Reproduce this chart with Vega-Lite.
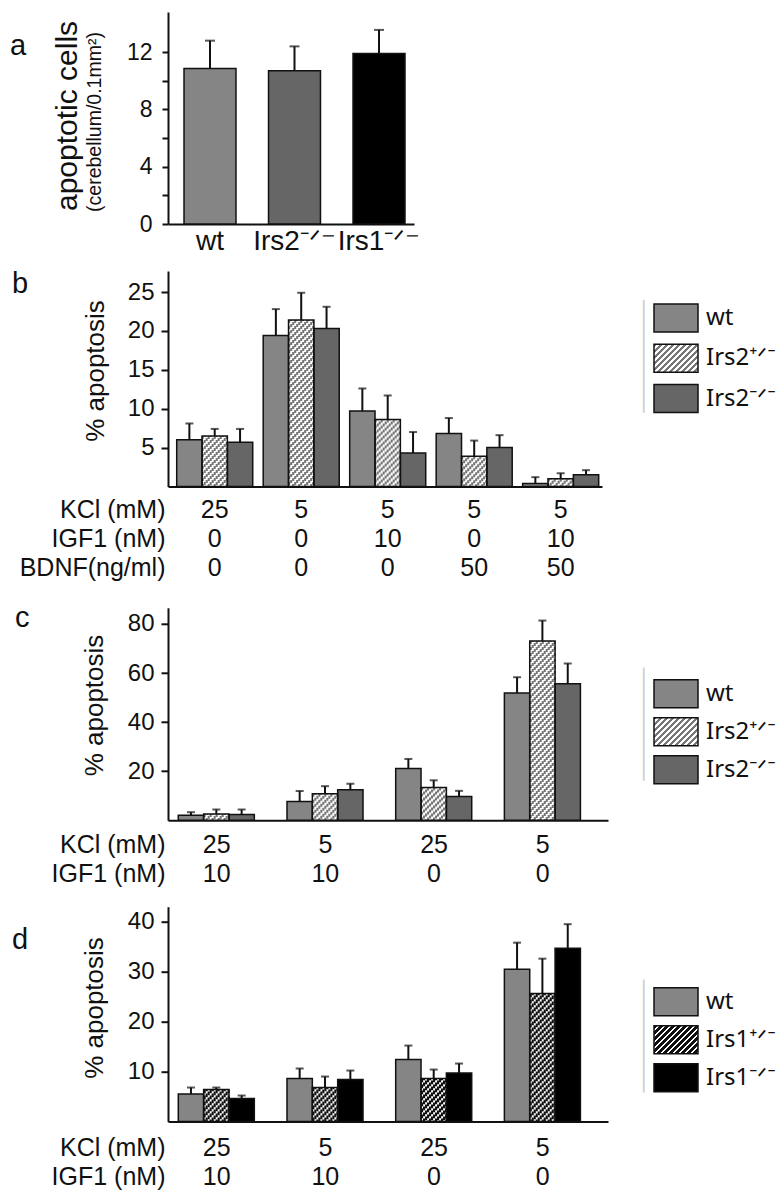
{
 "$schema": "https://vega.github.io/schema/vega-lite/v6.json",
 "background": "white",
 "padding": {"left": 10, "top": 12, "right": 0, "bottom": 0},
 "params": [
  {"name": "hatchB", "value": {"gradient": "linear", "x1": 0, "y1": 0, "x2": 1.1647, "y2": 0.7412, "stops": [
   {"offset": 0, "color": "#777777"},
   {"offset": 0.0417, "color": "#777777"}, {"offset": 0.0417, "color": "#ffffff"},
   {"offset": 0.0833, "color": "#ffffff"}, {"offset": 0.0833, "color": "#777777"},
   {"offset": 0.125, "color": "#777777"}, {"offset": 0.125, "color": "#ffffff"},
   {"offset": 0.1667, "color": "#ffffff"}, {"offset": 0.1667, "color": "#777777"},
   {"offset": 0.2083, "color": "#777777"}, {"offset": 0.2083, "color": "#ffffff"},
   {"offset": 0.25, "color": "#ffffff"}, {"offset": 0.25, "color": "#777777"},
   {"offset": 0.2917, "color": "#777777"}, {"offset": 0.2917, "color": "#ffffff"},
   {"offset": 0.3333, "color": "#ffffff"}, {"offset": 0.3333, "color": "#777777"},
   {"offset": 0.375, "color": "#777777"}, {"offset": 0.375, "color": "#ffffff"},
   {"offset": 0.4167, "color": "#ffffff"}, {"offset": 0.4167, "color": "#777777"},
   {"offset": 0.4583, "color": "#777777"}, {"offset": 0.4583, "color": "#ffffff"},
   {"offset": 0.5, "color": "#ffffff"}, {"offset": 0.5, "color": "#777777"},
   {"offset": 0.5417, "color": "#777777"}, {"offset": 0.5417, "color": "#ffffff"},
   {"offset": 0.5833, "color": "#ffffff"}, {"offset": 0.5833, "color": "#777777"},
   {"offset": 0.625, "color": "#777777"}, {"offset": 0.625, "color": "#ffffff"},
   {"offset": 0.6667, "color": "#ffffff"}, {"offset": 0.6667, "color": "#777777"},
   {"offset": 0.7083, "color": "#777777"}, {"offset": 0.7083, "color": "#ffffff"},
   {"offset": 0.75, "color": "#ffffff"}, {"offset": 0.75, "color": "#777777"},
   {"offset": 0.7917, "color": "#777777"}, {"offset": 0.7917, "color": "#ffffff"},
   {"offset": 0.8333, "color": "#ffffff"}, {"offset": 0.8333, "color": "#777777"},
   {"offset": 0.875, "color": "#777777"}, {"offset": 0.875, "color": "#ffffff"},
   {"offset": 0.9167, "color": "#ffffff"}, {"offset": 0.9167, "color": "#777777"},
   {"offset": 0.9583, "color": "#777777"}, {"offset": 0.9583, "color": "#ffffff"},
   {"offset": 1, "color": "#ffffff"}
  ]}},
  {"name": "hatchD", "value": {"gradient": "linear", "x1": 0, "y1": 0, "x2": 1.1647, "y2": 0.7412, "stops": [
   {"offset": 0, "color": "#111111"},
   {"offset": 0.05, "color": "#111111"}, {"offset": 0.05, "color": "#ffffff"},
   {"offset": 0.0833, "color": "#ffffff"}, {"offset": 0.0833, "color": "#111111"},
   {"offset": 0.1333, "color": "#111111"}, {"offset": 0.1333, "color": "#ffffff"},
   {"offset": 0.1667, "color": "#ffffff"}, {"offset": 0.1667, "color": "#111111"},
   {"offset": 0.2167, "color": "#111111"}, {"offset": 0.2167, "color": "#ffffff"},
   {"offset": 0.25, "color": "#ffffff"}, {"offset": 0.25, "color": "#111111"},
   {"offset": 0.3, "color": "#111111"}, {"offset": 0.3, "color": "#ffffff"},
   {"offset": 0.3333, "color": "#ffffff"}, {"offset": 0.3333, "color": "#111111"},
   {"offset": 0.3833, "color": "#111111"}, {"offset": 0.3833, "color": "#ffffff"},
   {"offset": 0.4167, "color": "#ffffff"}, {"offset": 0.4167, "color": "#111111"},
   {"offset": 0.4667, "color": "#111111"}, {"offset": 0.4667, "color": "#ffffff"},
   {"offset": 0.5, "color": "#ffffff"}, {"offset": 0.5, "color": "#111111"},
   {"offset": 0.55, "color": "#111111"}, {"offset": 0.55, "color": "#ffffff"},
   {"offset": 0.5833, "color": "#ffffff"}, {"offset": 0.5833, "color": "#111111"},
   {"offset": 0.6333, "color": "#111111"}, {"offset": 0.6333, "color": "#ffffff"},
   {"offset": 0.6667, "color": "#ffffff"}, {"offset": 0.6667, "color": "#111111"},
   {"offset": 0.7167, "color": "#111111"}, {"offset": 0.7167, "color": "#ffffff"},
   {"offset": 0.75, "color": "#ffffff"}, {"offset": 0.75, "color": "#111111"},
   {"offset": 0.8, "color": "#111111"}, {"offset": 0.8, "color": "#ffffff"},
   {"offset": 0.8333, "color": "#ffffff"}, {"offset": 0.8333, "color": "#111111"},
   {"offset": 0.8833, "color": "#111111"}, {"offset": 0.8833, "color": "#ffffff"},
   {"offset": 0.9167, "color": "#ffffff"}, {"offset": 0.9167, "color": "#111111"},
   {"offset": 0.9667, "color": "#111111"}, {"offset": 0.9667, "color": "#ffffff"},
   {"offset": 1, "color": "#ffffff"}
  ]}}
 ],
 "config": {
  "font": "Liberation Sans",
  "view": {"stroke": null},
  "axis": {"domainColor": "#111", "domainWidth": 2, "tickColor": "#111", "tickWidth": 2, "labelColor": "#111", "titleColor": "#111", "titleFontWeight": "normal", "grid": false},
  "axisY": {"tickSize": 7, "labelFontSize": 24, "titleFontSize": 26, "labelPadding": 7},
  "title": {"anchor": "start", "frame": "group", "offset": 0, "baseline": "alphabetic", "fontSize": 29, "fontWeight": "normal", "color": "#111"},
  "legend": {"orient": "none", "legendX": 467, "titleOrient": "left", "titleFont": "DejaVu Sans", "titleFontSize": 17, "titleColor": "#c8c8c8", "titlePadding": 0, "titleFontWeight": "normal", "labelFont": "Noto Sans", "labelFontSize": 24, "labelOffset": 15, "labelColor": "#111", "symbolType": "M-1.5714,-1H1.5714V1H-1.5714Z", "symbolSize": 784, "symbolStrokeColor": "#111", "symbolStrokeWidth": 1.5, "symbolOpacity": 1, "padding": 0}
 },
 "spacing": 47,
 "bounds": "flush",
 "resolve": {"scale": {"color": "independent"}, "legend": {"color": "independent"}},
 "vconcat": [
  {
   "width": 246, "height": 212,
   "title": {"text": "a", "dx": -158, "dy": 53},
   "data": {"values": [
    {"g": "wt", "v": 10.85, "e": 12.8},
    {"g": "ko2", "v": 10.7, "e": 12.4},
    {"g": "ko1", "v": 11.9, "e": 13.55}
   ]},
   "encoding": {
    "x": {"field": "g", "type": "nominal", "sort": null,
     "scale": {"paddingInner": 0.385, "paddingOuter": 0.148, "align": 0.64},
     "axis": {"title": null, "labelExpr": "datum.value === 'wt' ? 'wt' : datum.value === 'ko2' ? 'Irs2⁻ᐟ⁻' : 'Irs1⁻ᐟ⁻'", "labelFontSize": 28, "labelPadding": 3, "labelBaseline": "top", "labelAngle": 0, "ticks": false, "tickSize": 0}}
   },
   "layer": [
    {"mark": {"type": "bar", "stroke": "#111", "strokeWidth": 1.5},
     "encoding": {
      "y": {"field": "v", "type": "quantitative", "scale": {"domain": [0, 14.8], "nice": false},
       "axis": {"title": "apoptotic cells", "titleFontSize": 30, "titleX": -86, "titleY": 103.5, "values": [0, 2, 4, 6, 8, 10, 12], "labelExpr": "datum.value % 4 === 0 ? datum.label : ''", "tickSize": 6, "labelPadding": 10, "labelFontSize": 23}},
      "color": {"field": "g", "type": "nominal", "scale": {"domain": ["wt", "ko2", "ko1"], "range": ["#858585", "#666666", "#000000"]}, "legend": null}
     }},
    {"mark": {"type": "rule", "strokeWidth": 2, "color": "#111"},
     "encoding": {
      "y": {"field": "v", "type": "quantitative", "scale": {"domain": [0, 14.8], "nice": false},
       "axis": {"orient": "left", "title": "(cerebellum/0.1mm²)", "titleFontSize": 19.5, "titleX": -64, "titleY": 109.5, "labels": false, "ticks": false, "domain": false}},
      "y2": {"field": "e"}
     }},
    {"mark": {"type": "tick", "thickness": 2, "size": 10, "color": "#111"},
     "encoding": {"y": {"field": "e", "type": "quantitative", "scale": {"domain": [0, 14.8], "nice": false}, "axis": null}}}
   ],
   "resolve": {"axis": {"y": "independent"}}
  },
  {
   "spacing": 120.8,
   "bounds": "flush",
   "resolve": {"scale": {"color": "independent"}, "legend": {"color": "independent"}},
   "vconcat": [
    {
     "width": 434, "height": 215.5,
     "title": {"text": "b", "dx": -156, "dy": 32},
     "data": {"values": [
      {"grp": "25|0|0", "g": "wt", "v": 6.0, "e": 8.1},
      {"grp": "25|0|0", "g": "het", "v": 6.5, "e": 7.4},
      {"grp": "25|0|0", "g": "ko", "v": 5.7, "e": 7.4},
      {"grp": "5|0|0", "g": "wt", "v": 19.4, "e": 22.8},
      {"grp": "5|0|0", "g": "het", "v": 21.4, "e": 24.9},
      {"grp": "5|0|0", "g": "ko", "v": 20.3, "e": 23.1},
      {"grp": "5|10|0", "g": "wt", "v": 9.7, "e": 12.6},
      {"grp": "5|10|0", "g": "het", "v": 8.6, "e": 11.7},
      {"grp": "5|10|0", "g": "ko", "v": 4.3, "e": 7.0},
      {"grp": "5|0|50", "g": "wt", "v": 6.8, "e": 8.8},
      {"grp": "5|0|50", "g": "het", "v": 3.9, "e": 5.9},
      {"grp": "5|0|50", "g": "ko", "v": 5.0, "e": 6.6},
      {"grp": "5|10|50", "g": "wt", "v": 0.4, "e": 1.2},
      {"grp": "5|10|50", "g": "het", "v": 1.0, "e": 1.7},
      {"grp": "5|10|50", "g": "ko", "v": 1.5, "e": 2.1}
     ]},
     "encoding": {
      "x": {"field": "grp", "type": "nominal", "sort": null,
       "scale": {"paddingInner": 0.121, "paddingOuter": 0.0694, "align": 0.725},
       "axis": {"title": ["KCl (mM)", "IGF1 (nM)", "BDNF(ng/ml)"], "titleX": -3, "titleY": 11.3, "titleAlign": "right", "titleBaseline": "top", "titleFontSize": 25, "titleLineHeight": 29, "labelExpr": "split(datum.label, '|')", "labelFontSize": 25, "labelLineHeight": 29, "labelPadding": 11.3, "labelBaseline": "top", "labelAngle": 0, "labelOverlap": false, "ticks": false, "tickSize": 0}}
     },
     "layer": [
      {"encoding": {"xOffset": {"field": "g", "type": "nominal", "sort": ["wt", "het", "ko"], "scale": {"paddingInner": 0, "paddingOuter": 0}}},
       "layer": [
        {"mark": {"type": "bar"},
         "encoding": {
          "y": {"field": "v", "type": "quantitative", "scale": {"domain": [0, 27.7], "nice": false},
           "axis": {"title": "% apoptosis", "titleX": -60, "titleY": 99.5, "values": [5, 10, 15, 20, 25]}},
          "color": {"condition": {"test": "datum.g === 'het'", "value": "#ffffff"}, "field": "g", "type": "nominal", "scale": {"domain": ["wt", "het", "ko"], "range": ["#858585", {"expr": "hatchB"}, "#666666"]},
           "legend": {"legendY": 32, "title": "───────────", "rowPadding": 6.3,
            "labelExpr": "datum.value === 'wt' ? 'wt' : datum.value === 'het' ? 'Irs2⁺ᐟ⁻' : 'Irs2⁻ᐟ⁻'",
            "encode": {"symbols": {"update": {"stroke": {"value": "#111"}}}, "title": {"update": {"angle": {"value": 90}, "dx": {"value": -59}}}}}}
         }}
       ]},
      {"transform": [{"filter": "datum.g === 'het'"}],
       "encoding": {"y": {"field": "v", "type": "quantitative", "scale": {"domain": [0, 27.7], "nice": false}}, "y2": {"datum": 0}},
       "layer": [
        {"mark": {"type": "rule", "color": "#777777", "strokeWidth": 2.1, "strokeDash": [3, 3], "xOffset": -12, "strokeDashOffset": 0}},
        {"mark": {"type": "rule", "color": "#777777", "strokeWidth": 2.1, "strokeDash": [3, 3], "xOffset": -10, "strokeDashOffset": 2}},
        {"mark": {"type": "rule", "color": "#777777", "strokeWidth": 2.1, "strokeDash": [3, 3], "xOffset": -8, "strokeDashOffset": 4}},
        {"mark": {"type": "rule", "color": "#777777", "strokeWidth": 2.1, "strokeDash": [3, 3], "xOffset": -6, "strokeDashOffset": 6}},
        {"mark": {"type": "rule", "color": "#777777", "strokeWidth": 2.1, "strokeDash": [3, 3], "xOffset": -4, "strokeDashOffset": 8}},
        {"mark": {"type": "rule", "color": "#777777", "strokeWidth": 2.1, "strokeDash": [3, 3], "xOffset": -2, "strokeDashOffset": 10}},
        {"mark": {"type": "rule", "color": "#777777", "strokeWidth": 2.1, "strokeDash": [3, 3], "xOffset": 0, "strokeDashOffset": 12}},
        {"mark": {"type": "rule", "color": "#777777", "strokeWidth": 2.1, "strokeDash": [3, 3], "xOffset": 2, "strokeDashOffset": 14}},
        {"mark": {"type": "rule", "color": "#777777", "strokeWidth": 2.1, "strokeDash": [3, 3], "xOffset": 4, "strokeDashOffset": 16}},
        {"mark": {"type": "rule", "color": "#777777", "strokeWidth": 2.1, "strokeDash": [3, 3], "xOffset": 6, "strokeDashOffset": 18}},
        {"mark": {"type": "rule", "color": "#777777", "strokeWidth": 2.1, "strokeDash": [3, 3], "xOffset": 8, "strokeDashOffset": 20}},
        {"mark": {"type": "rule", "color": "#777777", "strokeWidth": 2.1, "strokeDash": [3, 3], "xOffset": 10, "strokeDashOffset": 22}},
        {"mark": {"type": "rule", "color": "#777777", "strokeWidth": 2.1, "strokeDash": [3, 3], "xOffset": 12, "strokeDashOffset": 24}}
       ]},
      {"encoding": {"xOffset": {"field": "g", "type": "nominal", "sort": ["wt", "het", "ko"], "scale": {"paddingInner": 0, "paddingOuter": 0}}},
       "layer": [
        {"mark": {"type": "bar", "fill": "#ffffff", "fillOpacity": 0, "stroke": "#111", "strokeWidth": 1.5},
         "encoding": {"y": {"field": "v", "type": "quantitative", "scale": {"domain": [0, 27.7], "nice": false}}}},
        {"mark": {"type": "rule", "color": "#111", "strokeWidth": 2},
         "encoding": {"y": {"field": "v", "type": "quantitative", "scale": {"domain": [0, 27.7], "nice": false}}, "y2": {"field": "e"}}},
        {"mark": {"type": "tick", "color": "#111", "thickness": 2, "size": 8},
         "encoding": {"y": {"field": "e", "type": "quantitative", "scale": {"domain": [0, 27.7], "nice": false}}}}
       ]}
     ]
    },
    {
     "spacing": 85.9,
     "bounds": "flush",
     "resolve": {"scale": {"color": "independent"}, "legend": {"color": "independent"}},
     "vconcat": [
      {
       "width": 440, "height": 212.5,
       "title": {"text": "c", "dx": -153, "dy": 29},
       "data": {"values": [
        {"grp": "25|10", "g": "wt", "v": 2.1, "e": 3.3},
        {"grp": "25|10", "g": "het", "v": 2.6, "e": 4.4},
        {"grp": "25|10", "g": "ko", "v": 2.4, "e": 4.4},
        {"grp": "5|10", "g": "wt", "v": 7.7, "e": 11.9},
        {"grp": "5|10", "g": "het", "v": 10.8, "e": 13.9},
        {"grp": "5|10", "g": "ko", "v": 12.5, "e": 14.9},
        {"grp": "25|0", "g": "wt", "v": 21.1, "e": 25.0},
        {"grp": "25|0", "g": "het", "v": 13.4, "e": 16.3},
        {"grp": "25|0", "g": "ko", "v": 9.7, "e": 12.0},
        {"grp": "5|0", "g": "wt", "v": 51.9, "e": 58.3},
        {"grp": "5|0", "g": "het", "v": 73.1, "e": 81.4},
        {"grp": "5|0", "g": "ko", "v": 55.6, "e": 63.9}
       ]},
       "encoding": {
        "x": {"field": "grp", "type": "nominal", "sort": null,
         "scale": {"paddingInner": 0.294, "paddingOuter": 0.171, "align": 0.277},
         "axis": {"title": ["KCl (mM)", "IGF1 (nM)"], "titleX": -3, "titleY": 12.1, "titleAlign": "right", "titleBaseline": "top", "titleFontSize": 25, "titleLineHeight": 29, "labelExpr": "split(datum.label, '|')", "labelFontSize": 25, "labelLineHeight": 29, "labelPadding": 12.1, "labelBaseline": "top", "labelAngle": 0, "labelOverlap": false, "ticks": false, "tickSize": 0}}
       },
       "layer": [
        {"encoding": {"xOffset": {"field": "g", "type": "nominal", "sort": ["wt", "het", "ko"], "scale": {"paddingInner": 0, "paddingOuter": 0}}},
         "layer": [
          {"mark": {"type": "bar"},
           "encoding": {
            "y": {"field": "v", "type": "quantitative", "scale": {"domain": [0, 86.6], "nice": false},
             "axis": {"title": "% apoptosis", "titleX": -61, "titleY": 97.2, "values": [20, 40, 60, 80]}},
            "color": {"condition": {"test": "datum.g === 'het'", "value": "#ffffff"}, "field": "g", "type": "nominal", "scale": {"domain": ["wt", "het", "ko"], "range": ["#858585", {"expr": "hatchB"}, "#666666"]},
             "legend": {"legendY": 71, "title": "───────────", "rowPadding": 4,
              "labelExpr": "datum.value === 'wt' ? 'wt' : datum.value === 'het' ? 'Irs2⁺ᐟ⁻' : 'Irs2⁻ᐟ⁻'",
              "encode": {"symbols": {"update": {"stroke": {"value": "#111"}}}, "title": {"update": {"angle": {"value": 90}, "dx": {"value": -65}}}}}}
           }}
         ]},
        {"transform": [{"filter": "datum.g === 'het'"}],
         "encoding": {"y": {"field": "v", "type": "quantitative", "scale": {"domain": [0, 86.6], "nice": false}}, "y2": {"datum": 0}},
         "layer": [
          {"mark": {"type": "rule", "color": "#777777", "strokeWidth": 2.1, "strokeDash": [3, 3], "xOffset": -12, "strokeDashOffset": 0}},
          {"mark": {"type": "rule", "color": "#777777", "strokeWidth": 2.1, "strokeDash": [3, 3], "xOffset": -10, "strokeDashOffset": 2}},
          {"mark": {"type": "rule", "color": "#777777", "strokeWidth": 2.1, "strokeDash": [3, 3], "xOffset": -8, "strokeDashOffset": 4}},
          {"mark": {"type": "rule", "color": "#777777", "strokeWidth": 2.1, "strokeDash": [3, 3], "xOffset": -6, "strokeDashOffset": 6}},
          {"mark": {"type": "rule", "color": "#777777", "strokeWidth": 2.1, "strokeDash": [3, 3], "xOffset": -4, "strokeDashOffset": 8}},
          {"mark": {"type": "rule", "color": "#777777", "strokeWidth": 2.1, "strokeDash": [3, 3], "xOffset": -2, "strokeDashOffset": 10}},
          {"mark": {"type": "rule", "color": "#777777", "strokeWidth": 2.1, "strokeDash": [3, 3], "xOffset": 0, "strokeDashOffset": 12}},
          {"mark": {"type": "rule", "color": "#777777", "strokeWidth": 2.1, "strokeDash": [3, 3], "xOffset": 2, "strokeDashOffset": 14}},
          {"mark": {"type": "rule", "color": "#777777", "strokeWidth": 2.1, "strokeDash": [3, 3], "xOffset": 4, "strokeDashOffset": 16}},
          {"mark": {"type": "rule", "color": "#777777", "strokeWidth": 2.1, "strokeDash": [3, 3], "xOffset": 6, "strokeDashOffset": 18}},
          {"mark": {"type": "rule", "color": "#777777", "strokeWidth": 2.1, "strokeDash": [3, 3], "xOffset": 8, "strokeDashOffset": 20}},
          {"mark": {"type": "rule", "color": "#777777", "strokeWidth": 2.1, "strokeDash": [3, 3], "xOffset": 10, "strokeDashOffset": 22}},
          {"mark": {"type": "rule", "color": "#777777", "strokeWidth": 2.1, "strokeDash": [3, 3], "xOffset": 12, "strokeDashOffset": 24}}
         ]},
        {"encoding": {"xOffset": {"field": "g", "type": "nominal", "sort": ["wt", "het", "ko"], "scale": {"paddingInner": 0, "paddingOuter": 0}}},
         "layer": [
          {"mark": {"type": "bar", "fill": "#ffffff", "fillOpacity": 0, "stroke": "#111", "strokeWidth": 1.5},
           "encoding": {"y": {"field": "v", "type": "quantitative", "scale": {"domain": [0, 86.6], "nice": false}}}},
          {"mark": {"type": "rule", "color": "#111", "strokeWidth": 2},
           "encoding": {"y": {"field": "v", "type": "quantitative", "scale": {"domain": [0, 86.6], "nice": false}}, "y2": {"field": "e"}}},
          {"mark": {"type": "tick", "color": "#111", "thickness": 2, "size": 8},
           "encoding": {"y": {"field": "e", "type": "quantitative", "scale": {"domain": [0, 86.6], "nice": false}}}}
         ]}
       ]
      },
      {
       "width": 440, "height": 214.8,
       "title": {"text": "d", "dx": -156, "dy": 52},
       "data": {"values": [
        {"grp": "25|10", "g": "wt", "v": 5.5, "e": 6.8},
        {"grp": "25|10", "g": "het", "v": 6.4, "e": 6.8},
        {"grp": "25|10", "g": "ko", "v": 4.6, "e": 5.2},
        {"grp": "5|10", "g": "wt", "v": 8.6, "e": 10.6},
        {"grp": "5|10", "g": "het", "v": 6.8, "e": 9.0},
        {"grp": "5|10", "g": "ko", "v": 8.4, "e": 10.2},
        {"grp": "25|0", "g": "wt", "v": 12.4, "e": 15.2},
        {"grp": "25|0", "g": "het", "v": 8.6, "e": 10.4},
        {"grp": "25|0", "g": "ko", "v": 9.7, "e": 11.6},
        {"grp": "5|0", "g": "wt", "v": 30.5, "e": 35.8},
        {"grp": "5|0", "g": "het", "v": 25.6, "e": 32.6},
        {"grp": "5|0", "g": "ko", "v": 34.7, "e": 39.5}
       ]},
       "encoding": {
        "x": {"field": "grp", "type": "nominal", "sort": null,
         "scale": {"paddingInner": 0.294, "paddingOuter": 0.171, "align": 0.277},
         "axis": {"title": ["KCl (mM)", "IGF1 (nM)"], "titleX": -3, "titleY": 13.6, "titleAlign": "right", "titleBaseline": "top", "titleFontSize": 25, "titleLineHeight": 29, "labelExpr": "split(datum.label, '|')", "labelFontSize": 25, "labelLineHeight": 29, "labelPadding": 13.6, "labelBaseline": "top", "labelAngle": 0, "labelOverlap": false, "ticks": false, "tickSize": 0}}
       },
       "layer": [
        {"encoding": {"xOffset": {"field": "g", "type": "nominal", "sort": ["wt", "het", "ko"], "scale": {"paddingInner": 0, "paddingOuter": 0}}},
         "layer": [
          {"mark": {"type": "bar"},
           "encoding": {
            "y": {"field": "v", "type": "quantitative", "scale": {"domain": [0, 43], "nice": false},
             "axis": {"title": "% apoptosis", "titleX": -61, "titleY": 100.8, "values": [10, 20, 30, 40]}},
            "color": {"condition": {"test": "datum.g === 'het'", "value": "#ffffff"}, "field": "g", "type": "nominal", "scale": {"domain": ["wt", "het", "ko"], "range": ["#858585", {"expr": "hatchD"}, "#000000"]},
             "legend": {"legendY": 80, "title": "───────────", "rowPadding": 4,
              "labelExpr": "datum.value === 'wt' ? 'wt' : datum.value === 'het' ? 'Irs1⁺ᐟ⁻' : 'Irs1⁻ᐟ⁻'",
              "encode": {"symbols": {"update": {"stroke": {"value": "#111"}}}, "title": {"update": {"angle": {"value": 90}, "dx": {"value": -61}}}}}}
           }}
         ]},
        {"transform": [{"filter": "datum.g === 'het'"}],
         "encoding": {"y": {"field": "v", "type": "quantitative", "scale": {"domain": [0, 43], "nice": false}}, "y2": {"datum": 0}},
         "layer": [
          {"mark": {"type": "rule", "color": "#111111", "strokeWidth": 2.1, "strokeDash": [3.6, 2.4], "xOffset": -12, "strokeDashOffset": 0}},
          {"mark": {"type": "rule", "color": "#111111", "strokeWidth": 2.1, "strokeDash": [3.6, 2.4], "xOffset": -10, "strokeDashOffset": 2}},
          {"mark": {"type": "rule", "color": "#111111", "strokeWidth": 2.1, "strokeDash": [3.6, 2.4], "xOffset": -8, "strokeDashOffset": 4}},
          {"mark": {"type": "rule", "color": "#111111", "strokeWidth": 2.1, "strokeDash": [3.6, 2.4], "xOffset": -6, "strokeDashOffset": 6}},
          {"mark": {"type": "rule", "color": "#111111", "strokeWidth": 2.1, "strokeDash": [3.6, 2.4], "xOffset": -4, "strokeDashOffset": 8}},
          {"mark": {"type": "rule", "color": "#111111", "strokeWidth": 2.1, "strokeDash": [3.6, 2.4], "xOffset": -2, "strokeDashOffset": 10}},
          {"mark": {"type": "rule", "color": "#111111", "strokeWidth": 2.1, "strokeDash": [3.6, 2.4], "xOffset": 0, "strokeDashOffset": 12}},
          {"mark": {"type": "rule", "color": "#111111", "strokeWidth": 2.1, "strokeDash": [3.6, 2.4], "xOffset": 2, "strokeDashOffset": 14}},
          {"mark": {"type": "rule", "color": "#111111", "strokeWidth": 2.1, "strokeDash": [3.6, 2.4], "xOffset": 4, "strokeDashOffset": 16}},
          {"mark": {"type": "rule", "color": "#111111", "strokeWidth": 2.1, "strokeDash": [3.6, 2.4], "xOffset": 6, "strokeDashOffset": 18}},
          {"mark": {"type": "rule", "color": "#111111", "strokeWidth": 2.1, "strokeDash": [3.6, 2.4], "xOffset": 8, "strokeDashOffset": 20}},
          {"mark": {"type": "rule", "color": "#111111", "strokeWidth": 2.1, "strokeDash": [3.6, 2.4], "xOffset": 10, "strokeDashOffset": 22}},
          {"mark": {"type": "rule", "color": "#111111", "strokeWidth": 2.1, "strokeDash": [3.6, 2.4], "xOffset": 12, "strokeDashOffset": 24}}
         ]},
        {"encoding": {"xOffset": {"field": "g", "type": "nominal", "sort": ["wt", "het", "ko"], "scale": {"paddingInner": 0, "paddingOuter": 0}}},
         "layer": [
          {"mark": {"type": "bar", "fill": "#ffffff", "fillOpacity": 0, "stroke": "#111", "strokeWidth": 1.5},
           "encoding": {"y": {"field": "v", "type": "quantitative", "scale": {"domain": [0, 43], "nice": false}}}},
          {"mark": {"type": "rule", "color": "#111", "strokeWidth": 2},
           "encoding": {"y": {"field": "v", "type": "quantitative", "scale": {"domain": [0, 43], "nice": false}}, "y2": {"field": "e"}}},
          {"mark": {"type": "tick", "color": "#111", "thickness": 2, "size": 8},
           "encoding": {"y": {"field": "e", "type": "quantitative", "scale": {"domain": [0, 43], "nice": false}}}}
         ]}
       ]
      }
     ]
    }
   ]
  }
 ]
}
